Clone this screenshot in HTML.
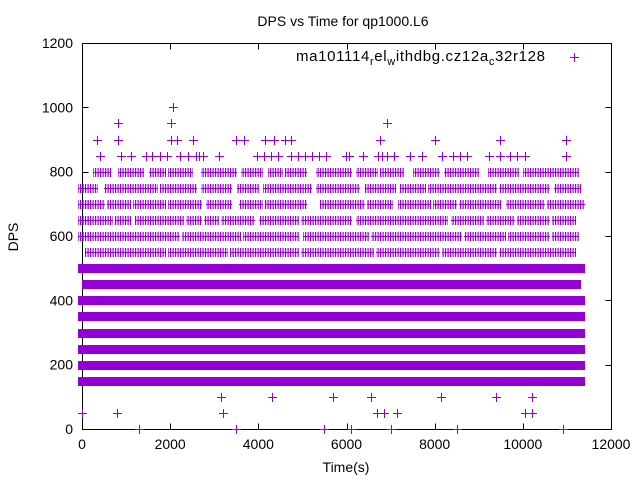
<!DOCTYPE html>
<html><head><meta charset="utf-8"><style>
body{margin:0;background:#fff;}
svg{display:block;font-family:"Liberation Sans",sans-serif;}
</style></head><body>
<svg id="chart" width="640" height="480" viewBox="0 0 640 480">
<defs>
<pattern id="hatch" patternUnits="userSpaceOnUse" x="0" y="0" width="2.5" height="2"><rect x="0" y="0" width="1.2" height="2" fill="#9400d3"/></pattern>
</defs>
<text x="343" y="26" font-size="14" text-anchor="middle">DPS vs Time for qp1000.L6</text>
<text x="346" y="472" font-size="14" text-anchor="middle">Time(s)</text>
<text x="18" y="237" font-size="14" text-anchor="middle" transform="rotate(-90 18 237)">DPS</text>
<g id="axes" shape-rendering="crispEdges"></g>
<g id="marks" shape-rendering="crispEdges"></g>
<g>
<text x="296" y="61" font-size="15" textLength="249" lengthAdjust="spacing">ma101114<tspan font-size="11" dy="4">r</tspan><tspan dy="-4">el</tspan><tspan font-size="11" dy="4">w</tspan><tspan dy="-4">ithdbg.cz12a</tspan><tspan font-size="11" dy="4">c</tspan><tspan dy="-4">32r128</tspan></text>
<path d="M570 57.5H579M574.5 53V62" stroke="#9400d3" stroke-width="1" shape-rendering="crispEdges"/>
</g>
</svg>
<script>
// ---- data ----
const xTicks = [0,2000,4000,6000,8000,10000,12000];
const yTicks = [0,200,400,600,800,1000,1200];
const sparseLevels = [0,50,100,850,900,950,1000];
const pts0 = [1300,3500,5500,6100,7000,8500,10900];
const pts50 = [0,800,3200,6700,6850,7150,10050,10200];
const pts100 = [3150,4300,5700,6550,8150,9400,10200];
const pts850 = [417,879,1122,1447,1593,1771,1933,2217,2403,2582,2663,2744,3109,3960,4122,4284,4446,4730,4892,5054,5216,5378,5541,5987,6068,6376,6716,6797,6919,7081,7446,7705,8175,8419,8581,8743,9229,9472,9716,9878,10040,10972];
const pts900 = [336,822,2014,2160,2525,3498,3676,4146,4349,4608,4750,6750,8013,9472,10972];
const pts950 = [822,2030,6920];
const pts1000 = [2055];
// dense rows: runs of closely spaced points [start,end]
const denseLevels = [150,200,250,300,350,400,450,500,550,600,650,700,750,800];
const runs800 = [[350,550],[900,1300],[1600,1800],[2050,2400],[2800,3400],[3700,4000],[4300,4450],[4700,5000],[5400,6000],[6300,6600],[6850,7200],[7600,8000],[8300,8900],[9300,9800],[10100,10800],[10900,11150]];
const runs750 = [[0,250],[600,1600],[1850,2500],[2800,3300],[3600,3900],[4200,5100],[5400,6200],[6500,7000],[7300,7700],[7950,9300],[9550,10500],[10800,11200]];
const runs700 = [[0,80],[150,400],[650,1000],[1250,1800],[2050,2600],[2900,3300],[3650,4000],[4250,5000],[5500,6300],[6550,6950],[7250,7800],[8050,8400],[8650,9400],[9700,10400],[10650,11300]];
const runs650 = [[0,80],[200,600],[850,1000],[1300,2200],[2450,2600],[2850,3000],[3250,3800],[4100,4800],[5050,6000],[6300,8200],[8450,9000],[9250,9700],[9950,10500],[10750,11100]];
const runs600 = [[0,80],[200,2100],[2350,3500],[3750,4800],[5100,6400],[6650,8500],[8750,9500],[9750,10500],[10750,11150]];
const runs550 = [[150,1800],[2050,3200],[3450,4800],[5050,6500],[6750,8000],[8250,9300],[9550,11100]];
const runs500 = [[0,400],[450,2200],[2300,4500],[4600,6000],[6100,7800],[7900,9300],[9400,10600],[10650,11300]];
const runs450 = [[80,3300],[3400,4300],[4400,5200],[5300,6600],[6700,7600],[7700,8900],[9000,10500],[10600,11200]];
const runs400 = [[0,3000],[3100,4400],[4500,6200],[6300,8300],[8400,9800],[9900,11300]];
const runs350 = [[0,1300],[1400,2700],[2800,4500],[4600,6200],[6300,8000],[8100,9800],[9900,11300]];
const runs300 = [[0,1500],[1600,3000],[3100,5000],[5100,7500],[7600,9600],[9700,11300]];
const runs250 = [[0,2300],[2400,5000],[5100,8000],[8100,11300]];
const runs200 = [[0,11300]];
const runs150 = [[0,11300]];

const sparseData = [pts0,pts50,pts100,pts850,pts900,pts950,pts1000];
const denseData = [runs150,runs200,runs250,runs300,runs350,runs400,runs450,runs500,runs550,runs600,runs650,runs700,runs750,runs800];

// ---- scales ----
const X0=82, X1=611, Y0=429, Y1=43;
const sx = t => X0 + (t/12000)*(X1-X0);
const sy = v => Y0 - (v/1200)*(Y0-Y1);
const NS='http://www.w3.org/2000/svg';
const color='#9400d3';
const plus = (x,y) => { const px=Math.round(x)+0.5, py=Math.round(y)+0.5; return `M${px-4.5} ${py}h9M${px} ${py-4.5}v9`; };

const axes=document.getElementById('axes');
const ax=v=>Math.round(v)+0.5;
let ad=`M${ax(X0)} ${ax(Y1)}H${ax(X1)}V${ax(Y0)}H${ax(X0)}Z`;
xTicks.forEach(t=>{const x=ax(sx(t));ad+=`M${x} ${ax(Y0)}v-6M${x} ${ax(Y1)}v6`;});
yTicks.forEach(v=>{const y=ax(sy(v));ad+=`M${ax(X0)} ${y}h6M${ax(X1)} ${y}h-6`;});
const frame=document.createElementNS(NS,'path');
frame.setAttribute('d',ad);frame.setAttribute('stroke','#000');frame.setAttribute('fill','none');frame.setAttribute('stroke-width','1');


axes.appendChild(frame);
xTicks.forEach(t=>{
  const tx=document.createElementNS(NS,'text');
  tx.setAttribute('x',sx(t));tx.setAttribute('y',Y0+20);tx.setAttribute('font-size','14');tx.setAttribute('text-anchor','middle');
  tx.textContent=t;
  
  
  axes.appendChild(tx);
});
yTicks.forEach(v=>{
  const tx=document.createElementNS(NS,'text');
  tx.setAttribute('x',X0-9);tx.setAttribute('y',sy(v)+5);tx.setAttribute('font-size','14');tx.setAttribute('text-anchor','end');
  tx.textContent=v;
  
  
  axes.appendChild(tx);
});

const marks=document.getElementById('marks');
denseLevels.forEach((lv,i)=>{
  const y=Math.round(sy(lv));
  const sparse = lv>=550;
  denseData[i].forEach(([a,b])=>{
    const xa=Math.round(sx(a))-4, xb=Math.round(sx(b))+5;
    const r=document.createElementNS(NS,'rect');
    r.setAttribute('x',xa);r.setAttribute('y',y-4);
    r.setAttribute('width',xb-xa);r.setAttribute('height',9);
    r.setAttribute('fill',sparse?'url(#hatch)':color);
    
    
    marks.appendChild(r);
    if(sparse){
      const h=document.createElementNS(NS,'rect');
      h.setAttribute('x',xa);h.setAttribute('y',y);
      h.setAttribute('width',xb-xa);h.setAttribute('height',1);
      h.setAttribute('fill',color);
      
      
      marks.appendChild(h);
    }
  });
});
sparseLevels.forEach((lv,i)=>{
  let d='';const y=sy(lv);
  sparseData[i].forEach(t=>{d+=plus(sx(t),y);});
  const p=document.createElementNS(NS,'path');
  p.setAttribute('d',d);p.setAttribute('stroke',color);p.setAttribute('fill','none');p.setAttribute('stroke-width','1');
  
  
  marks.appendChild(p);
});
</script>
</body></html>
